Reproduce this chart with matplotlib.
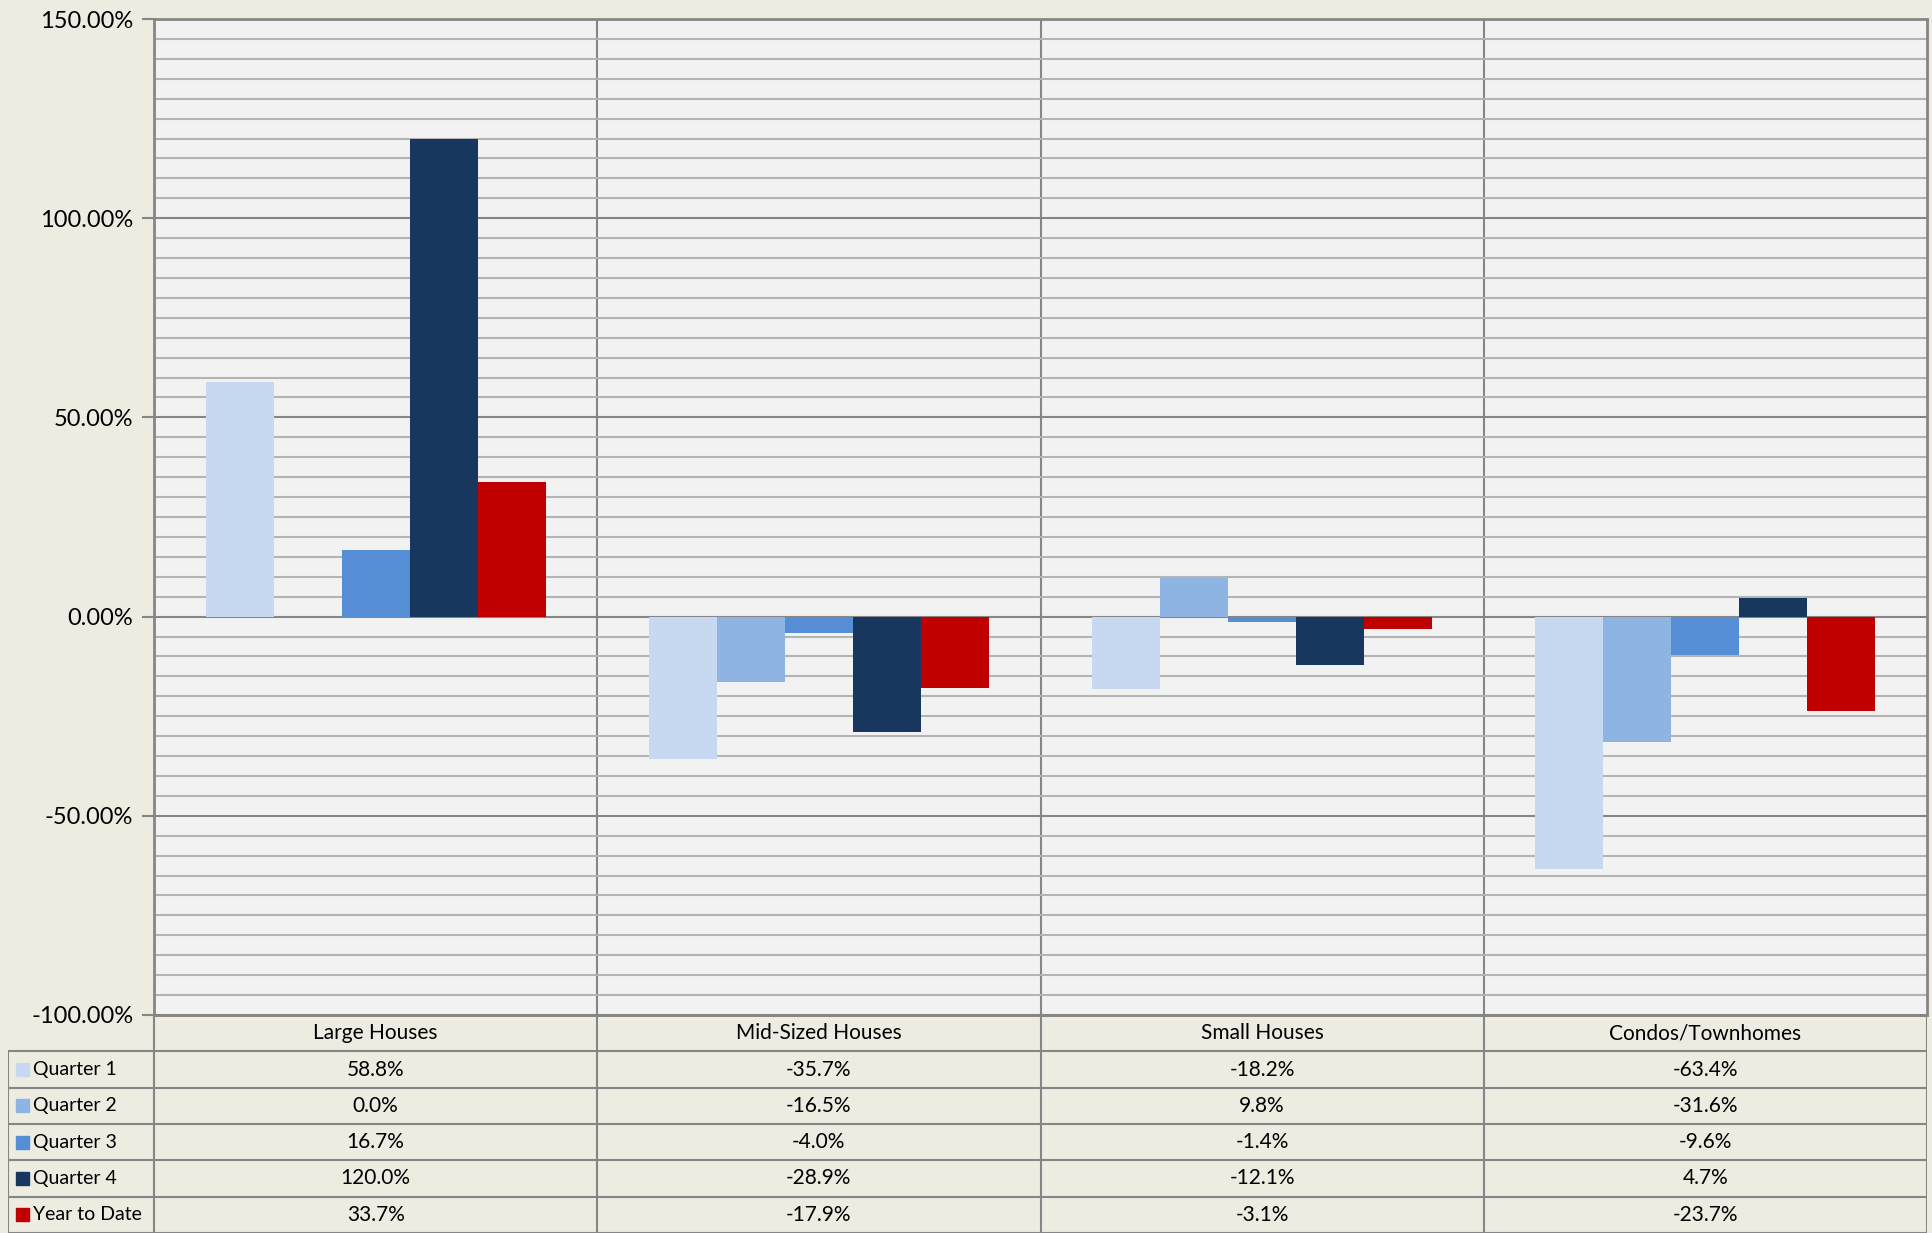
import numpy as np
import matplotlib.pyplot as plt
from matplotlib.ticker import MultipleLocator, FuncFormatter
from matplotlib.patches import Rectangle

plt.rcParams['font.family'] = ['Lato', 'DejaVu Sans']

# data
categories = ['Large Houses', 'Mid-Sized Houses', 'Small Houses', 'Condos/Townhomes']
series = ['Quarter 1', 'Quarter 2', 'Quarter 3', 'Quarter 4', 'Year to Date']
q1 = [58.8, -35.7, -18.2, -63.4]
q2 = [0.0, -16.5, 9.8, -31.6]
q3 = [16.7, -4.0, -1.4, -9.6]
q4 = [120.0, -28.9, -12.1, 4.7]
ytd = [33.7, -17.9, -3.1, -23.7]
colors = ['#C6D9F1', '#8EB4E3', '#558ED5', '#17375E', '#C00000']

values = [q1, q2, q3, q4, ytd]

W, H = 1932, 1233
fig = plt.figure(figsize=(W / 100, H / 100), dpi=100)
fig.patch.set_facecolor('#EEECE1')

# main plot area (pixel layout)
left, right, top, bottom = 154, 1927, 19, 1015
ax = fig.add_axes([left / W, (H - bottom) / H, (right - left) / W, (bottom - top) / H])
ax.set_facecolor('#F2F2F2')

n = len(categories)
bar_w = 0.1535
x = np.arange(n) + 0.5
for j, (vals, c) in enumerate(zip(values, colors)):
    ax.bar(x + (j - 2) * bar_w, vals, width=bar_w, color=c, zorder=3, linewidth=0)

ax.set_xlim(0, n)
ax.set_ylim(-100, 150)
ax.yaxis.set_major_locator(MultipleLocator(50))
ax.yaxis.set_minor_locator(MultipleLocator(5))
ax.yaxis.set_major_formatter(FuncFormatter(lambda v, p: f'{v:.2f}%'))
ax.grid(True, which='major', axis='y', color='#868686', linewidth=1.5, zorder=1)
ax.grid(True, which='minor', axis='y', color='#B4B4B4', linewidth=1.5, zorder=1)
for b in range(1, n):
    ax.axvline(b, color='#868686', linewidth=1.5, zorder=1)
ax.set_xticks([])
ax.tick_params(axis='y', which='major', length=9, width=1.5, color='#868686',
               labelsize=17, pad=6, labelcolor='#000000')
ax.tick_params(axis='y', which='minor', length=0)
for s in ax.spines.values():
    s.set_color('#868686')
    s.set_linewidth(2)

# data table below the plot
tleft = 8
label_w = (left - tleft) / ((right - left) / n)
tax = fig.add_axes([tleft / W, 0, (right - tleft) / W, (H - bottom) / H])
tax.set_xlim(-label_w, n)
nrows = len(series) + 1
tax.set_ylim(nrows, 0)
tax.axis('off')
lc = '#868686'
fs = 15
tax.plot([0, n], [0, 0], color=lc, lw=2)
for r in range(1, nrows + 1):
    tax.plot([-label_w, n], [r, r], color=lc, lw=1.5)
tax.plot([-label_w, -label_w], [1, nrows], color=lc, lw=1.5)
for b in range(n + 1):
    tax.plot([b, b], [0, nrows], color=lc, lw=1.5)
for i, cat in enumerate(categories):
    tax.text(i + 0.5, 0.5, cat, ha='center', va='center', fontsize=fs)
for j, (name, vals, c) in enumerate(zip(series, values, colors)):
    r = j + 1.5
    tax.add_patch(Rectangle((-label_w + 0.018, r - 0.18), 0.029, 0.36, color=c, clip_on=False))
    tax.text(-label_w + 0.057, r, name, ha='left', va='center', fontsize=14)
    for i, v in enumerate(vals):
        tax.text(i + 0.5, r, f'{v:.1f}%', ha='center', va='center', fontsize=fs)

fig.savefig('out.png', dpi=100, facecolor=fig.get_facecolor())
